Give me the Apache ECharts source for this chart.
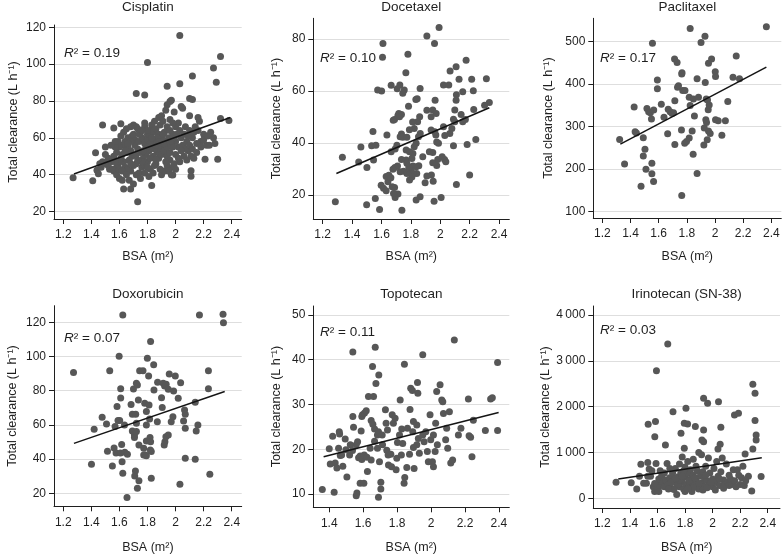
<!DOCTYPE html>
<html><head><meta charset="utf-8">
<script src="https://cdn.jsdelivr.net/npm/echarts@6/dist/echarts.min.js"></script>
<style>html,body{margin:0;padding:0;background:#fff}#c{width:782px;height:555px}</style>
</head><body><div id="c"></div>
<script>
const drugs = ['Cisplatin','Docetaxel','Paclitaxel','Doxorubicin','Topotecan','Irinotecan (SN-38)'];
const r2Values = ['0.19','0.10','0.17','0.07','0.11','0.03'];
const xTicks = [1.2,1.4,1.6,1.8,2,2.2,2.4];
const xTicksTopo = [1.4,1.6,1.8,2,2.2,2.4];
const yTicksCis = [20,40,60,80,100,120];
const yTicksDoc = [20,40,60,80];
const yTicksPac = [100,200,300,400,500];
const yTicksDox = [20,40,60,80,100,120];
const yTicksTop = [10,20,30,40,50];
const yTicksIri = [0,1000,2000,3000,4000];

const cisplatin = [[2.03,115.5],[1.80,100.8],[2.32,104.1],[2.27,97.9],[2.29,90.2],[2.03,89.4],[1.94,88.0],[2.12,93.6],[1.72,84.0],[1.78,83.3],[2.10,81.3],[2.12,80.8],[1.97,80.4],[1.96,79.7],[2.32,70.5],[2.38,69.4],[2.30,48.4],[1.27,38.4],[1.41,36.8],[1.73,25.4],[1.63,32.3],[1.68,32.3],[1.83,34.1],[2.11,39.2],[2.11,42.2],[1.98,39.9],[2.21,48.4],[1.48,67.0],[1.43,51.9],[1.44,42.5],[1.45,40.6],[1.50,55.1],[1.56,65.4],[1.61,67.7],
[1.94,78],[1.93,75],[2.04,77],[2.05,76],[1.99,74],[2.10,72],[2.16,71],[2.17,69],[2.25,63],[2.27,60],[2.22,56],[2.24,56],[2.20,62],[2.18,58],[2.15,57],[2.12,60],[2.10,64],[2.07,66],[2.09,53],[2.06,50],[2.11,50],[2.13,49],[2.03,47],[2.02,55],[2.0,58],[1.98,62],[2.0,66],[2.02,68],[1.96,70],[1.9,72],[1.88,71],[1.85,69],[1.83,67],[1.82,64],[1.8,62],[1.78,66],[1.75,63],[1.73,65],[1.72,66],[1.70,67],[1.68,66],[1.66,60],[1.64,58],[1.62,56],[1.6,55],[1.58,52],[1.56,50],[1.55,48],[1.54,47],[1.52,45],[1.5,46],[1.48,47],[1.53,43],[1.56,42],[1.58,40],[1.6,38],[1.62,37],[1.64,44],[1.66,43],[1.68,42],[1.67,37],[1.7,35],[1.72,40],[1.74,41],[1.76,44],[1.78,45],[1.8,47],[1.82,43],[1.84,41],[1.86,46],[1.88,49],[1.9,40],[1.92,42],[1.94,45],[1.96,48],[1.98,44],[1.99,46],[1.87,52],[1.89,54],[1.91,56],[1.93,58],[1.95,60],[1.97,57],[1.85,58],[1.83,55],[1.81,53],[1.79,51],[1.77,49],[1.75,52],[1.73,54],[1.71,56],[1.69,50],[1.67,48],[1.65,52],[1.63,47],[1.61,49],[1.59,45],[1.57,55],[1.59,58],[1.61,61],[1.63,63],[1.65,65],[1.69,61],[1.71,59],[1.74,58],[1.76,60],[1.78,57],[1.80,59],[1.82,61],[1.84,63],[1.86,65],[1.88,62],[1.90,60],[1.92,63],[1.94,66],[1.96,64],[1.98,68],[1.89,67],[1.91,69],[1.87,60],[1.85,54],[1.88,56],[1.90,51],[1.92,53],[1.94,50],[1.96,52],[1.98,55],[2.0,51],[2.02,49],[2.04,60],[2.06,62],[2.08,58],[2.05,56],[2.07,54],[2.09,61],[2.13,63],[2.14,66],[2.16,64],[1.84,50],[1.82,49],[1.86,48],[1.80,44],[1.76,47],[1.72,46],[1.70,45],[1.68,53],[1.66,55],[1.64,53],[1.62,51],[1.60,47],[1.58,44],[1.55,43],[1.52,49],[1.47,44],[1.46,46],[1.50,51],[1.54,56],[1.57,58],[1.73,48],[1.75,38],[1.78,41],[1.81,39],[1.85,45],[1.89,43],[1.93,47],[1.95,42],[1.97,40],[2.0,43],[1.86,56],[1.84,58],[1.82,57],[1.79,55],[1.77,53],[1.94,55],[1.92,57],[1.99,60],[2.01,62],[2.03,64],[1.7,62],[1.68,58],[1.66,57],[1.74,62],[1.8,64],[1.78,68],[1.76,64],[1.6,43],[1.62,42],[1.65,40],[1.57,47],[1.68,46],[1.72,51],[1.96,58],[1.88,58],[1.83,60],[1.91,62],[2.04,53],[2.08,48],[2.1,56],[2.12,54],[2.15,52],[2.18,55],[2.20,59],[2.23,61],[2.28,57]];
const cisplatinFit = [[1.276,40.4],[2.39,71.0]];

const docetaxel = [[1.286,17.4],[1.334,34.6],[1.501,30.6],[1.460,38.5],[1.445,32.7],[1.533,39],[1.542,44.5],[1.562,39.2],[1.546,33.5],[1.558,18.7],[1.499,16.3],[1.587,14.5],[1.574,60.4],[1.601,60],[1.610,78.3],[1.607,73],[1.666,62.2],[1.707,60.9],[1.725,62.3],[1.755,60.4],[1.745,59.2],[1.766,67.1],[1.78,74.2],[1.784,54.2],[1.863,61],[1.834,56.8],[1.843,57.1],[1.909,81.2],[1.961,78.3],[1.992,84.5],[1.965,56.5],[1.909,52.6],[2.022,62.3],[2.058,62.3],[2.067,67.7],[2.108,69.4],[2.128,64.6],[2.176,71.9],[2.214,64.6],[2.225,60.1],[2.314,64.7],[2.334,55.6],[2.302,54.6],[2.228,52.9],[2.153,59.7],[2.11,58.6],[2.108,56.5],[2.099,52.7],[2.142,51],[2.153,48.2],[2.171,49.1],[2.09,49.2],[2.099,48.2],[2.065,43.7],[2.079,45.6],[2.022,46.3],[2.031,42.9],[2.09,39],[2.183,39.5],[2.242,41.4],[2.2,27.7],[2.11,24.1],[2.006,19.1],[1.958,17.6],[2.029,33.7],[2.038,32.8],[2.013,34.7],[1.983,33.7],[1.976,31.4],[1.949,32.4],[1.949,36.4],[1.926,36.7],[1.976,40.4],[1.988,39.9],[1.97,43.1],[1.963,44.4],[1.938,45],[1.938,50.1],[1.949,52.7],[1.972,51.4],[1.952,25.3],[1.94,27.7],[1.909,27.3],[1.897,24.7],[1.864,43.7],[1.86,50.1],[1.846,48.2],[1.823,45.6],[1.812,48.1],[1.79,45.1],[1.852,42.4],[1.836,39.9],[1.823,38.6],[1.814,36],[1.881,34.7],[1.854,31.3],[1.836,30.9],[1.814,31.2],[1.8,29.6],[1.786,30.6],[1.773,28.3],[1.75,29.2],[1.727,29],[1.709,31.2],[1.736,33.7],[1.768,37.3],[1.768,33.5],[1.773,32.2],[1.791,25.8],[1.863,19.4],[1.836,18.1],[1.739,14.2],[1.712,20.4],[1.693,19.1],[1.682,20.6],[1.689,22.9],[1.673,23.2],[1.644,25.1],[1.632,27.1],[1.65,27.6],[1.664,26.7],[1.614,22.6],[1.632,21.7],[1.598,23.8],[1.691,30.6],[1.678,29.9],[1.693,37.7],[1.705,39.2],[1.666,36.7],[1.689,49.1],[1.68,48.8],[1.712,50.6],[1.718,51.4],[1.736,51],[1.723,50.1],[1.736,43.5],[1.727,42.4],[1.745,42.2],[1.637,43.1],[1.773,42.2],[1.791,36.7],[1.807,34.1],[1.84,28.3],[1.818,28.3],[1.807,27]];
const docetaxelFit = [[1.293,28.3],[2.334,53.6]];

const paclitaxel = [[1.323,270],[1.358,212],[1.426,346],[1.433,288],[1.442,285],[1.491,274],[1.503,247],[1.491,231],[1.510,200],[1.475,160],[1.552,214],[1.552,189],[1.564,171],[1.556,496],[1.517,343],[1.529,335],[1.541,333],[1.565,339],[1.549,318],[1.591,389],[1.591,410],[1.619,353],[1.638,322],[1.668,341],[1.682,335],[1.696,331],[1.706,333],[1.664,283],[1.715,361],[1.715,258],[1.713,459],[1.731,451],[1.741,396],[1.734,393],[1.766,427],[1.764,424],[1.771,385],[1.787,385],[1.762,292],[1.764,138],[1.785,261],[1.798,265],[1.817,273],[1.817,369],[1.824,350],[1.824,531],[1.847,365],[1.854,325],[1.845,235],[1.838,290],[1.873,413],[1.883,369],[1.873,190],[1.901,498],[1.929,513],[1.931,404],[1.938,365],[1.947,363],[1.924,297],[1.935,316],[1.940,310],[1.921,257],[1.945,269],[1.952,340],[1.959,351],[1.954,449],[1.976,459],[1.954,290],[1.966,284],[2.002,429],[2.004,418],[2.004,316],[2.023,314],[2.049,280],[2.074,314],[2.091,359],[2.128,416],[2.151,466],[2.174,413],[2.365,535]];
const paclitaxelFit = [[1.328,259],[2.365,440]];

const doxorubicin = [[1.273,90.6],[1.42,57.4],[1.401,37],[1.477,64.4],[1.508,60.5],[1.515,44.6],[1.531,91.7],[1.55,36],[1.562,46.5],[1.569,59],[1.576,43.6],[1.583,70.7],[1.59,62.5],[1.602,62.5],[1.598,100.1],[1.609,75.8],[1.609,81.2],[1.607,43.6],[1.616,48.5],[1.619,38.5],[1.624,31.7],[1.624,124.3],[1.638,44],[1.657,42.8],[1.654,17.5],[1.636,60],[1.683,72],[1.692,66.2],[1.7,81],[1.692,56.5],[1.707,54.1],[1.707,52.6],[1.714,33.1],[1.709,30.1],[1.716,66.2],[1.721,60.9],[1.721,84.3],[1.728,83.4],[1.735,74.6],[1.721,56.1],[1.728,22.9],[1.739,27.4],[1.739,48.3],[1.744,91.7],[1.768,91.7],[1.773,46.3],[1.773,42.4],[1.785,42.4],[1.792,42],[1.78,72.6],[1.792,67.8],[1.792,60],[1.792,50.6],[1.799,99],[1.808,88.6],[1.811,71.7],[1.815,63.5],[1.818,52.6],[1.822,50.2],[1.82,45.3],[1.827,44.4],[1.822,108.7],[1.827,28.8],[1.844,95.1],[1.846,80.4],[1.87,61.9],[1.872,84.9],[1.9,75.9],[1.905,70.1],[1.912,84.3],[1.919,48.3],[1.924,50.2],[1.931,53.1],[1.922,82.8],[1.933,83.7],[1.948,80.8],[1.948,54.1],[1.955,89.8],[1.969,61.9],[1.981,64.8],[1.986,79.8],[1.998,88.6],[2.019,75.6],[2.036,84.7],[2.031,25.3],[2.064,68.7],[2.057,62.3],[2.069,66.2],[2.069,40.5],[2.069,58],[2.14,73.2],[2.14,39.9],[2.147,56.5],[2.159,60],[2.17,124.3],[2.234,91.7],[2.234,81.2],[2.244,31.1],[2.338,124.7],[2.341,119.8]];
const doxorubicinFit = [[1.276,49.2],[2.35,79.5]];

const topotecan = [[1.359,11],[1.429,10.4],[1.4,20.1],[1.406,16.7],[1.42,22.9],[1.435,16.9],[1.445,15.8],[1.459,23.9],[1.461,23.4],[1.455,20.2],[1.465,18.6],[1.473,18.7],[1.48,16.2],[1.494,22.3],[1.498,19.9],[1.504,13.8],[1.524,21],[1.52,18.7],[1.537,19.7],[1.543,24.9],[1.539,27.3],[1.539,41.7],[1.559,9.6],[1.563,10.2],[1.573,18.1],[1.559,21],[1.567,21.7],[1.592,27.3],[1.596,27.7],[1.588,24.1],[1.582,18.5],[1.592,17.7],[1.582,12.4],[1.604,12.4],[1.606,18.7],[1.608,28.1],[1.618,28.6],[1.622,18.2],[1.625,15],[1.641,20.2],[1.647,17.6],[1.631,31.8],[1.661,31.8],[1.647,26.4],[1.657,25.6],[1.655,38.5],[1.671,42.8],[1.675,34.7],[1.692,36.6],[1.667,24.5],[1.667,21.8],[1.684,20.2],[1.684,23.2],[1.69,23.9],[1.696,17.2],[1.69,9.3],[1.704,11.1],[1.704,12.6],[1.712,23.2],[1.714,21],[1.731,28.8],[1.735,25.8],[1.743,24.3],[1.739,19.8],[1.747,18.7],[1.749,16.5],[1.763,18.9],[1.767,16.1],[1.771,27.7],[1.778,25.8],[1.788,26.9],[1.794,15.4],[1.798,18],[1.802,21.5],[1.814,23.2],[1.818,31],[1.827,24.5],[1.825,18.7],[1.833,21.3],[1.841,12.4],[1.845,13.7],[1.843,39],[1.857,15.9],[1.861,24.7],[1.873,18.9],[1.876,28.9],[1.88,33.6],[1.89,33.1],[1.896,26.2],[1.892,23.9],[1.896,20.4],[1.9,15.7],[1.916,21],[1.916,25.4],[1.92,34.9],[1.922,32.5],[1.925,22.4],[1.931,19.1],[1.951,41.1],[1.951,23.2],[1.959,21.7],[1.969,23.9],[1.978,19.5],[1.984,17.2],[1.994,27.7],[1.998,22.1],[2.008,17.2],[2.014,16.1],[2.014,23.2],[2.024,19.5],[2.027,25.8],[2.033,32.9],[2.037,21],[2.053,34.4],[2.063,31],[2.069,30.6],[2.073,28],[2.086,22.1],[2.092,24.7],[2.098,20.2],[2.108,28.4],[2.116,16.9],[2.127,17.6],[2.137,44.4],[2.161,23.2],[2.176,24.7],[2.22,31.2],[2.224,23],[2.233,22.7],[2.241,18.3],[2.249,26.5],[2.351,31.2],[2.361,31.5],[2.392,39.4],[2.32,24.2],[2.392,24.2]];
const topotecanFit = [[1.367,18.3],[2.398,28.2]];

const irinotecan = [[1.675,3367],[1.593,2785],[1.586,1673],[1.533,1615],[1.581,1345],[1.658,1164],[1.713,1891],[1.807,1964],[1.795,1636],[1.819,1622],[1.771,1418],[1.795,1091],[1.875,1564],[1.935,2182],[1.964,2073],[1.935,1491],[1.923,1273],[1.935,1236],[2.043,2109],[2.06,1549],[2.055,1178],[2.039,1076],[2.159,1818],[2.188,1855],[2.292,2487],[2.308,2291],[2.308,1695],[2.316,1382],[2.316,1273],[2.292,1076],[2.236,967],[2.284,160],[2.352,473],
[1.30,350],[1.41,340],[1.45,200],[1.47,480],[1.48,740],[1.5,330],[1.52,330],[1.53,780],[1.54,640],[1.55,480],[1.56,600],[1.57,250],[1.58,150],[1.59,760],[1.6,200],[1.6,300],[1.61,420],[1.62,280],[1.63,480],[1.64,350],[1.65,250],[1.66,400],[1.67,760],[1.68,300],[1.69,450],[1.7,220],[1.71,550],[1.72,380],[1.73,650],[1.74,80],[1.74,300],[1.75,470],[1.76,250],[1.76,750],[1.77,560],[1.78,350],[1.78,900],[1.79,200],[1.8,460],[1.8,680],[1.81,300],[1.82,550],[1.82,800],[1.83,250],[1.84,420],[1.84,620],[1.85,150],[1.85,350],[1.86,500],[1.86,850],[1.87,270],[1.88,400],[1.88,700],[1.89,600],[1.9,200],[1.9,1000],[1.91,480],[1.92,330],[1.92,950],[1.93,580],[1.94,250],[1.94,450],[1.95,700],[1.96,380],[1.97,880],[1.98,300],[1.98,550],[2.0,250],[2.0,420],[2.01,650],[2.02,350],[2.03,800],[2.04,480],[2.05,280],[2.06,580],[2.07,880],[2.08,400],[2.09,300],[2.1,750],[2.11,350],[2.12,280],[2.13,420],[2.14,300],[2.15,620],[2.16,380],[2.18,620],[2.19,500],[2.2,300],[2.21,450],[2.22,700],[2.23,280],[2.26,480],[1.65,550],[1.7,350],[1.72,190],[1.58,320],[1.62,600],[1.53,480],[1.75,300],[1.8,150],[1.83,380],[1.87,450],[1.93,180],[1.96,230],[2.02,180],[2.05,420],[2.08,220],[2.12,500],[1.68,200],[1.76,400],[1.9,320],[1.99,350],[1.79,600],[1.69,650],[1.86,230],[1.82,200],[1.78,480],[1.73,430],[1.61,150],[2.24,380],[1.95,500],[2.17,250]];
const irinotecanFit = [[1.316,422],[2.357,887]];

const panelData = [cisplatin, docetaxel, paclitaxel, doxorubicin, topotecan, irinotecan];
const panelFits = [cisplatinFit, docetaxelFit, paclitaxelFit, doxorubicinFit, topotecanFit, irinotecanFit];
const panelXTicks = [xTicks, xTicks, xTicks, xTicks, xTicksTopo, xTicks];
const panelYTicks = [yTicksCis, yTicksDoc, yTicksPac, yTicksDox, yTicksTop, yTicksIri];

// layout (pixels / axis extents)
const layout = [
  {grid:{left:54,top:25,width:187.7,height:194}, x:[1.134,2.471], y:[16,121.2], yGap:34, xGap:31, titleY:7, r2:[64,53]},
  {grid:{left:313.3,top:18.3,width:196,height:200.7}, x:[1.136,2.47], y:[10.8,88], yGap:30, xGap:31, titleY:7, r2:[320,58]},
  {grid:{left:593.3,top:18.3,width:188,height:199.7}, x:[1.136,2.471], y:[85,555], yGap:38, xGap:32, titleY:7, r2:[600,58]},
  {grid:{left:54,top:305.7,width:187.7,height:200.6}, x:[1.134,2.471], y:[12.4,129.7], yGap:35, xGap:35, titleY:294, r2:[64,338]},
  {grid:{left:313.3,top:306,width:196,height:201.3}, x:[1.306,2.461], y:[7.03,52], yGap:30, xGap:34, titleY:294, r2:[320,332]},
  {grid:{left:593.3,top:306,width:186.7,height:202}, x:[1.135,2.489], y:[-212,4196], yGap:38, xGap:33, titleY:294, r2:[600,330]}
];

const FONT = '"Liberation Sans", Arial, Helvetica, sans-serif';
const INK = '#1f1f1f';

const grids = [], xAxes = [], yAxes = [], series = [], graphics = [];
layout.forEach((L, i) => {
  grids.push(Object.assign({containLabel:false, outerBoundsMode:'none'}, L.grid));
  xAxes.push({
    type:'value', gridIndex:i, min:L.x[0], max:L.x[1],
    name:'BSA (m²)', nameLocation:'middle', nameGap:L.xGap,
    nameTextStyle:{fontSize:12.5, color:INK, fontFamily:FONT},
    axisLine:{show:true, onZero:false, lineStyle:{color:INK, width:1}},
    axisTick:{show:true, length:5, customValues:panelXTicks[i], lineStyle:{color:INK, width:1}},
    axisLabel:{customValues:panelXTicks[i], fontSize:12, color:INK, fontFamily:FONT, margin:10,
      formatter: v => String(+v.toFixed(1))},
    splitLine:{show:false}
  });
  yAxes.push({
    type:'value', gridIndex:i, min:L.y[0], max:L.y[1],
    name:'Total clearance (L h⁻¹)', nameLocation:'middle', nameGap:L.yGap,
    nameTextStyle:{fontSize:12.5, color:INK, fontFamily:FONT},
    axisLine:{show:true, onZero:false, lineStyle:{color:INK, width:1}},
    axisTick:{show:true, length:5, customValues:panelYTicks[i], lineStyle:{color:INK, width:1}},
    axisLabel:{customValues:panelYTicks[i], fontSize:12, color:INK, fontFamily:FONT, margin:8,
      formatter: v => v >= 1000 ? (Math.floor(v/1000) + '\u2009' + String(v%1000).padStart(3,'0')) : String(v)},
    splitLine:{show:true, lineStyle:{color:'#dedede', width:1}}
  });
  series.push({
    type:'scatter', xAxisIndex:i, yAxisIndex:i, data:panelData[i],
    symbol:'circle', symbolSize:7, itemStyle:{color:'#575757', opacity:1}, silent:true, z:2
  });
  series.push({
    type:'line', xAxisIndex:i, yAxisIndex:i, data:panelFits[i],
    symbol:'none', showSymbol:false, lineStyle:{color:'#141414', width:1.5}, silent:true, z:3
  });
  graphics.push({
    type:'text', x:L.grid.left + L.grid.width/2, y:L.titleY,
    style:{text:drugs[i], fontSize:13.5, fontFamily:FONT, fill:INK, align:'center', verticalAlign:'middle', textAlign:'center', textVerticalAlign:'middle'}
  });
  graphics.push({
    type:'text', x:L.r2[0], y:L.r2[1],
    style:{text:'{i|R}² = ' + r2Values[i], fontSize:13.5, fontFamily:FONT, fill:INK,
      align:'left', verticalAlign:'middle', textAlign:'left', textVerticalAlign:'middle',
      rich:{i:{fontStyle:'italic', fontSize:13.5, fontFamily:FONT, fill:INK, color:INK}}}
  });
});

const chart = echarts.init(document.getElementById('c'), null, {renderer:'canvas'});
chart.setOption({
  animation:false,
  backgroundColor:'#ffffff',
  grid:grids, xAxis:xAxes, yAxis:yAxes, series:series,
  graphic:{elements:graphics}
});
</script></body></html>
